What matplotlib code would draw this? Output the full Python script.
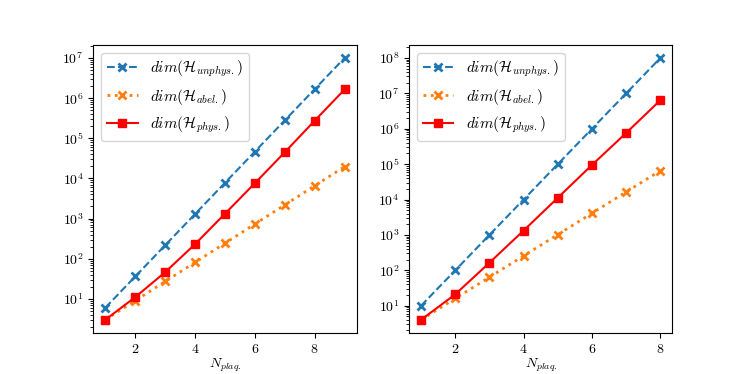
import matplotlib
matplotlib.use("Agg")
import matplotlib.pyplot as plt

plt.rcParams['mathtext.fontset'] = 'cm'
plt.rcParams['font.family'] = 'serif'
plt.rcParams['font.serif'] = ['cmr10', 'DejaVu Serif']
plt.rcParams['axes.formatter.use_mathtext'] = True

# Left panel
n_left = [1, 2, 3, 4, 5, 6, 7, 8, 9]
unphys_left = [6, 36, 216, 1296, 7776, 46656, 279936, 1679616, 10077696]
abel_left = [3, 9, 27, 81, 243, 729, 2187, 6561, 19683]
phys_left = [3, 11, 46, 230, 1320, 7600, 45000, 275000, 1650000]

# Right panel
n_right = [1, 2, 3, 4, 5, 6, 7, 8]
unphys_right = [10, 100, 1000, 10000, 100000, 1000000, 10000000, 100000000]
abel_right = [4, 16, 64, 256, 1024, 4096, 16384, 65536]
phys_right = [4, 21, 164, 1330, 11200, 95000, 760000, 6400000]

labels = [r'$dim(\mathcal{H}_{unphys.})$', r'$dim(\mathcal{H}_{abel.})$', r'$dim(\mathcal{H}_{phys.})$']

fig, axes = plt.subplots(1, 2, figsize=(7.47, 3.74), dpi=100)
for ax, n, u, a, p in [(axes[0], n_left, unphys_left, abel_left, phys_left),
                       (axes[1], n_right, unphys_right, abel_right, phys_right)]:
    ax.plot(n, u, '--x', color='C0', label=labels[0], markeredgewidth=2)
    ax.plot(n, a, ':x', color='C1', label=labels[1], markeredgewidth=2, linewidth=2)
    ax.plot(n, p, '-s', color='red', label=labels[2])
    ax.set_yscale('log')
    ax.set_xlabel(r'$N_{plaq.}$', labelpad=1)
    ax.legend(loc='upper left', fontsize=11)

fig.savefig('out.png', dpi=100)
